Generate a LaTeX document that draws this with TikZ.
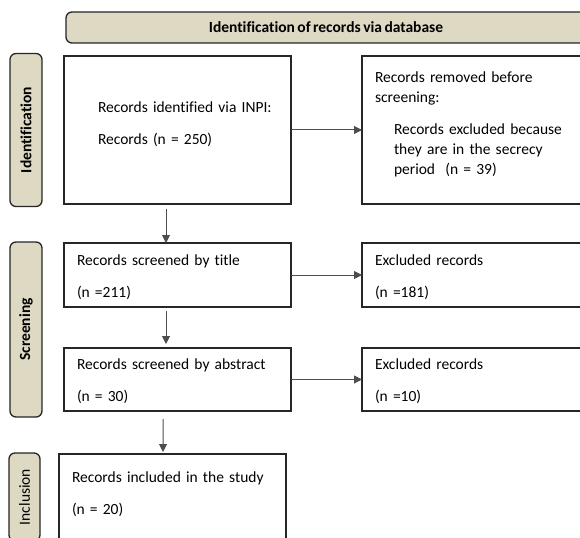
\documentclass[tikz,border=0pt]{standalone}
\usepackage{fontspec}
\setmainfont{Carlito}[Ligatures={NoCommon},WordSpace=0.7]
\usetikzlibrary{arrows.meta,positioning}

\definecolor{stagefill}{HTML}{DDD9C3}
\definecolor{framegray}{HTML}{262626}
\definecolor{linkgray}{HTML}{4D4D4D}

\newcommand{\flowfont}{\fontsize{15.5bp}{20bp}\selectfont}

\tikzset{
  stage/.style={draw=framegray, fill=stagefill, line width=1.3bp, rounded corners=6bp,
    inner sep=0pt, outer sep=0pt, font=\flowfont\bfseries},
  recbox/.style={draw=framegray, line width=1.3bp, minimum width=227bp, text width=201bp,
    inner xsep=13bp, outer sep=0pt, text depth=30bp, align=left},
}

\begin{document}
\begin{tikzpicture}[x=1bp,y=1bp,>={Triangle[length=8bp,width=8bp]},line width=1bp,font=\flowfont]

\useasboundingbox (0,0) rectangle (580,-538);
\clip (0,0) rectangle (580,-538);

% record boxes
\node[recbox, minimum height=148bp, text depth=46bp] (identified) at (177.5,-130)
  {\hspace*{21bp}Records identified via INPI:\\[12bp]\hspace*{21bp}Records (n = 250)};
\node[recbox, minimum height=148bp, text depth=106bp, right=71bp of identified] (removed)
  {Records removed before\\ screening:\\[12bp]\hspace*{19bp}Records excluded because\\
   \hspace*{19bp}they are in the secrecy\\ \hspace*{19bp}period\ \ (n = 39)};
\node[recbox, minimum height=64bp, below=39bp of identified] (bytitle)
  {Records screened by title\\[12bp](n =211)};
\node[recbox, minimum height=64bp, right=71bp of bytitle] (extitle)
  {Excluded records\\[12bp](n =181)};
\node[recbox, minimum height=63bp, below=41bp of bytitle] (byabstract)
  {Records screened by abstract\\[12bp](n = 30)};
\node[recbox, minimum height=63bp, right=71bp of byabstract] (exabstract)
  {Excluded records\\[12bp](n =10)};
\node[recbox, inner ysep=18bp, text depth=90bp, below=43bp of byabstract, xshift=-5bp] (included)
  {Records included in the study\\[12bp](n = 20)};

% stage labels
\node[stage, anchor=south west, minimum width=520bp, minimum height=31bp] (database)
  at ([xshift=2bp,yshift=13bp]identified.north west) {Identification of records via database};
\node[stage, rotate=90, anchor=south, minimum width=153bp, minimum height=32bp] (idstage)
  at ([xshift=-22bp]identified.west) {Identification};
\node[stage, rotate=90, anchor=south east, minimum width=175bp, minimum height=32bp] (scrstage)
  at ([xshift=-22bp,yshift=1bp]bytitle.north west) {Screening};
\node[stage, rotate=90, anchor=south east, minimum width=88bp, minimum height=31bp, font=\flowfont] (incstage)
  at ([xshift=-19bp,yshift=1bp]included.north west) {Inclusion};

\path[->, linkgray]
  (identified) edge (removed)
  (bytitle) edge (extitle)
  (byabstract) edge (exabstract)
  ([xshift=-11.5bp]identified.south) edge[shorten <=5bp] ([xshift=-11.5bp]bytitle.north)
  ([xshift=-11.5bp]bytitle.south) edge[shorten <=4bp, shorten >=4bp] ([xshift=-11.5bp]byabstract.north)
  ([xshift=-14.5bp]byabstract.south) edge[shorten <=8bp, shorten >=2bp] ([xshift=-9.5bp]included.north);

\end{tikzpicture}
\end{document}
